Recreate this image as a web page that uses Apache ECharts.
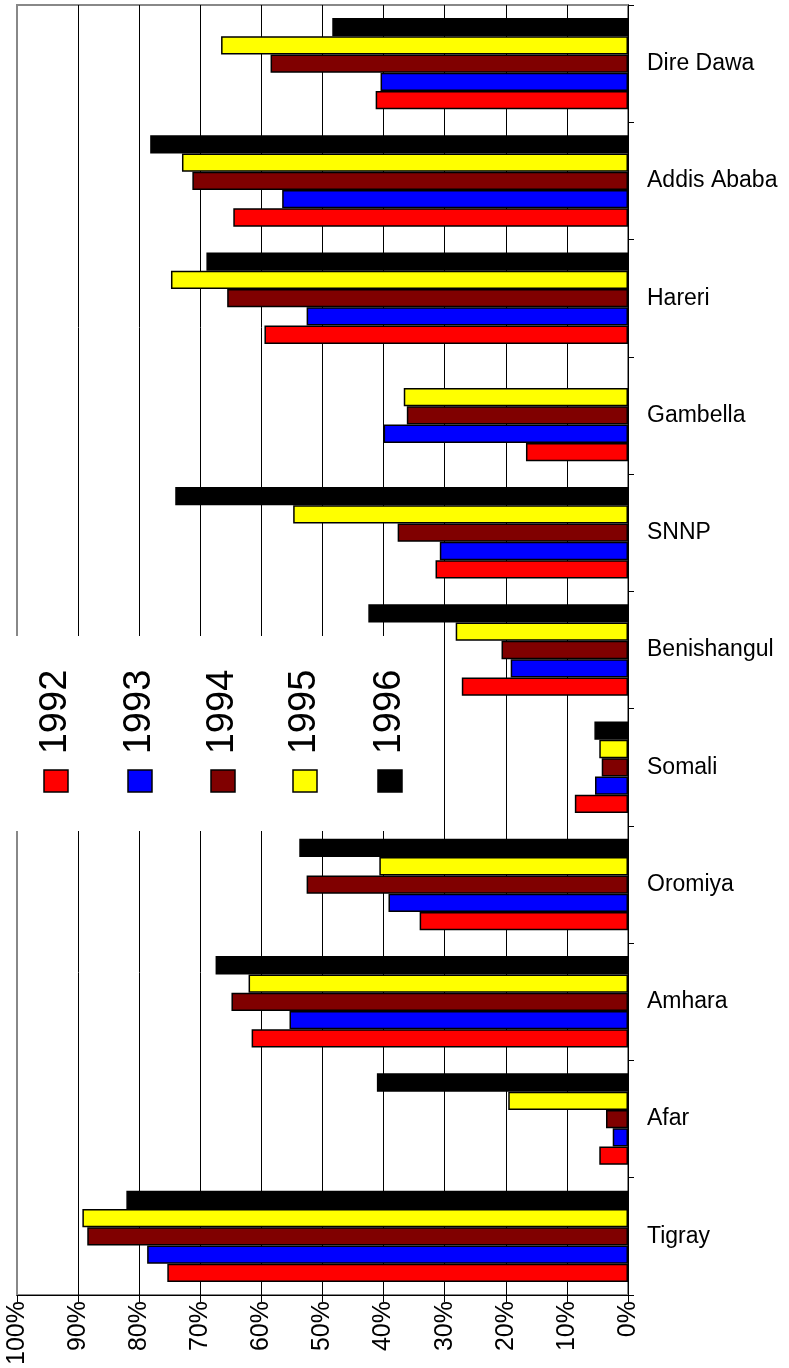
<!DOCTYPE html>
<html>
<head>
  <meta charset="utf-8">
  <title>Regions 1992-1996</title>
  <script src="https://cdn.jsdelivr.net/npm/echarts@6/dist/echarts.min.js"></script>
  <style>
    body { margin: 0; background: #fff; }
  </style>
</head>
<body>
  <div id="main" style="width:789px;height:1368px;"></div>
  <script type="text/javascript">
    // regions, listed from the bottom of the chart to the top
    var regions = ['Tigray', 'Afar', 'Amhara', 'Oromiya', 'Somali', 'Benishangul',
                   'SNNP', 'Gambella', 'Hareri', 'Addis Ababa', 'Dire Dawa'];
    var years = ['1992', '1993', '1994', '1995', '1996'];
    var colors = ['#ff0000', '#0000ff', '#800000', '#ffff00', '#000000'];

    var v1992 = [75.4, 4.7, 61.6, 34.1, 8.7, 27.2, 31.5, 16.7, 59.5, 64.6, 41.3];
    var v1993 = [78.7, 2.5, 55.4, 39.2, 5.4, 19.2, 30.8, 40.0, 52.6, 56.6, 40.5];
    var v1994 = [88.5, 3.6, 64.9, 52.6, 4.3, 20.7, 37.7, 36.2, 65.6, 71.3, 58.5];
    var v1995 = [89.3, 19.6, 62.1, 40.7, 4.7, 28.2, 54.8, 36.7, 74.8, 73.0, 66.6];
    var v1996 = [82.1, 41.1, 67.5, 53.8, 5.5, 42.5, 74.1, null, 69.0, 78.2, 48.4];
    var values = [v1992, v1993, v1994, v1995, v1996];

    var myChart = echarts.init(document.getElementById('main'));

    // horizontal bars stack series top-down, so add 1996 first to keep 1992 at the bottom
    var series = [];
    for (var i = years.length - 1; i >= 0; i--) {
      series.push({
        name: years[i],
        type: 'bar',
        data: values[i],
        barGap: '0%',
        barCategoryGap: '22%',
        itemStyle: { color: colors[i], borderColor: '#000', borderWidth: 1.5 }
      });
    }

    // legend drawn by hand: white box, vertical year labels and swatches
    var legendX = [56, 140, 223, 305, 390];
    var legend = [{
      type: 'rect', z: 50,
      shape: { x: 15, y: 636, width: 408, height: 195 },
      style: { fill: '#fff' }
    }];
    years.forEach(function (y, i) {
      legend.push({
        type: 'text', z: 51,
        x: legendX[i], y: 712, rotation: Math.PI / 2,
        style: { text: y, fontSize: 38, fontFamily: 'Liberation Sans, Arial', fill: '#000',
                 align: 'center', verticalAlign: 'middle' }
      });
      legend.push({
        type: 'rect', z: 51,
        shape: { x: legendX[i] - 12, y: 770, width: 24, height: 22 },
        style: { fill: colors[i], stroke: '#000', lineWidth: 1.5 }
      });
    });

    var gridColors = [];
    for (var k = 0; k < 10; k++) gridColors.push('#000');
    gridColors.push('#888');

    var option = {
      animation: false,
      textStyle: { fontFamily: 'Liberation Sans, Arial' },
      grid: {
        left: 17, right: 161, top: 5, bottom: 73,
        show: true, borderColor: '#888', borderWidth: 2
      },
      xAxis: {
        type: 'value', inverse: true, min: 0, max: 100, interval: 10,
        axisLine: { show: true, lineStyle: { color: '#000', width: 1 } },
        axisTick: { show: true, length: 7, lineStyle: { color: '#000' } },
        axisLabel: { formatter: '{value}%', rotate: 90, fontSize: 25, color: '#000', margin: 6 },
        splitLine: { show: true, lineStyle: { color: gridColors, width: 1 } }
      },
      yAxis: {
        type: 'category', position: 'right', data: regions,
        axisLine: { show: true, lineStyle: { color: '#000', width: 1 } },
        axisTick: { show: true, length: 6, lineStyle: { color: '#000' } },
        axisLabel: { fontSize: 23, color: '#000', margin: 19 }
      },
      series: series,
      graphic: legend
    };
    myChart.setOption(option);
  </script>
</body>
</html>
